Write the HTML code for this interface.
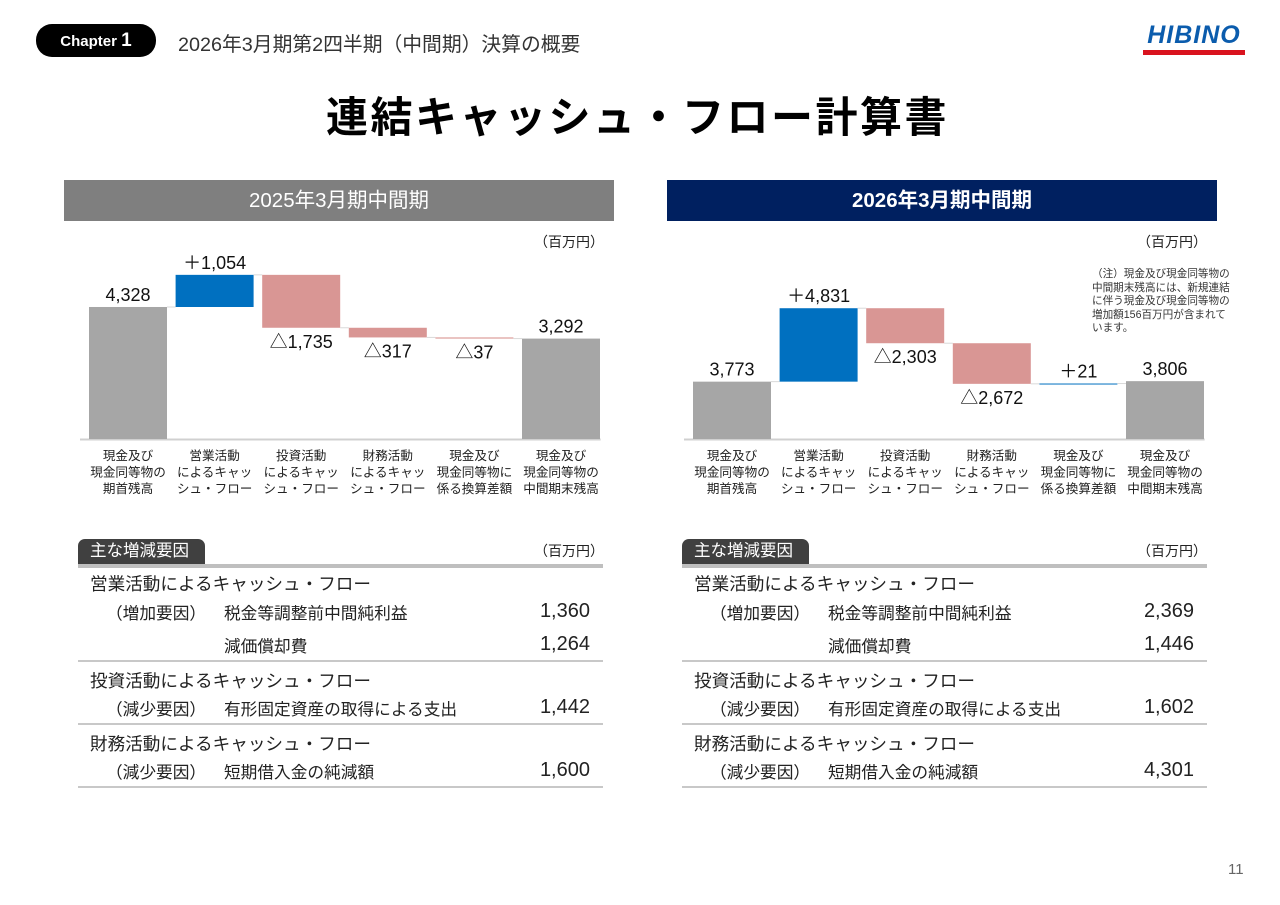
<!DOCTYPE html>
<html><head><meta charset="utf-8">
<style>
body{margin:0;background:#fff;}
#page{position:relative;width:1280px;height:905px;overflow:hidden;font-family:"Liberation Sans","Noto Sans CJK JP",sans-serif;color:#222;}
.a{position:absolute;white-space:nowrap;}
.hdr{position:absolute;top:180px;height:41px;width:550px;color:#fff;font-size:20.5px;line-height:41px;text-align:center;}
.tab{position:absolute;top:539px;height:25px;width:127px;background:#404040;color:#fff;font-size:16.5px;line-height:25px;border-radius:7px 7px 0 0;padding-left:12px;box-sizing:border-box;}
.thick{position:absolute;top:564px;height:4px;width:525px;background:#bfbfbf;}
.sep{position:absolute;height:2px;width:525px;background:#c8c8c8;}
.t{font-size:16.7px;}
.s{font-size:17.6px;}
.num{font-size:20px;text-align:right;width:120px;}
svg text{font-family:"Liberation Sans","Noto Sans CJK JP",sans-serif;}
</style></head><body>
<div id="page">
<div class="a" style="left:36px;top:24px;width:120px;height:33px;background:#000;border-radius:16px;color:#fff;font-weight:bold;font-size:15px;line-height:33px;text-align:center;">Chapter <span style="font-size:19px">1</span></div>
<div class="a" style="left:178px;top:28px;font-size:19.8px;color:#333;">2026年3月期第2四半期（中間期）決算の概要</div>
<div class="a" style="left:1143px;top:22px;width:102px;">
<div style="color:#0b5cad;font-weight:bold;font-style:italic;font-size:25px;letter-spacing:1px;line-height:26px;text-align:center;">HIBINO</div>
<div style="height:5px;background:#d9131e;margin-top:2px;"></div></div>
<div class="a" style="left:0;width:1275px;text-align:center;top:84px;font-size:42px;font-weight:bold;color:#000;letter-spacing:2.5px;">連結キャッシュ・フロー計算書</div>

<div class="hdr" style="left:64px;background:#7f7f7f;">2025年3月期中間期</div>
<div class="hdr" style="left:667px;background:#002060;font-weight:bold;">2026年3月期中間期</div>
<div class="a" style="left:534px;top:232px;font-size:14px;">（百万円）</div>
<div class="a" style="left:1137px;top:232px;font-size:14px;">（百万円）</div>
<div class="a" style="left:1092px;top:268px;font-size:10.6px;line-height:13.5px;color:#333;">（注）現金及び現金同等物の<br>中間期末残高には、新規連結<br>に伴う現金及び現金同等物の<br>増加額156百万円が含まれて<br>います。</div>

<svg id="chartL" class="a" style="left:0;top:230px" width="640" height="270"></svg>
<svg id="chartR" class="a" style="top:230px;left:640px" width="640" height="270"></svg>

<div class="tab" style="left:78px;">主な増減要因</div>
<div class="a" style="left:534px;top:541px;font-size:14px;">（百万円）</div>
<div class="thick" style="left:78px;"></div>
<div class="a s" style="left:90px;top:571px;">営業活動によるキャッシュ・フロー</div>
<div class="a t" style="left:106px;top:600px;">（増加要因）</div>
<div class="a t" style="left:224px;top:600px;">税金等調整前中間純利益</div>
<div class="a num" style="left:470px;top:600px;">1,360</div>
<div class="a t" style="left:224px;top:633px;">減価償却費</div>
<div class="a num" style="left:470px;top:633px;">1,264</div>
<div class="sep" style="left:78px;top:660px;"></div>
<div class="a s" style="left:90px;top:668px;">投資活動によるキャッシュ・フロー</div>
<div class="a t" style="left:106px;top:696px;">（減少要因）</div>
<div class="a t" style="left:224px;top:696px;">有形固定資産の取得による支出</div>
<div class="a num" style="left:470px;top:696px;">1,442</div>
<div class="sep" style="left:78px;top:723px;"></div>
<div class="a s" style="left:90px;top:731px;">財務活動によるキャッシュ・フロー</div>
<div class="a t" style="left:106px;top:759px;">（減少要因）</div>
<div class="a t" style="left:224px;top:759px;">短期借入金の純減額</div>
<div class="a num" style="left:470px;top:759px;">1,600</div>
<div class="sep" style="left:78px;top:786px;"></div>

<div class="tab" style="left:682px;">主な増減要因</div>
<div class="a" style="left:1137px;top:541px;font-size:14px;">（百万円）</div>
<div class="thick" style="left:682px;"></div>
<div class="a s" style="left:694px;top:571px;">営業活動によるキャッシュ・フロー</div>
<div class="a t" style="left:710px;top:600px;">（増加要因）</div>
<div class="a t" style="left:828px;top:600px;">税金等調整前中間純利益</div>
<div class="a num" style="left:1074px;top:600px;">2,369</div>
<div class="a t" style="left:828px;top:633px;">減価償却費</div>
<div class="a num" style="left:1074px;top:633px;">1,446</div>
<div class="sep" style="left:682px;top:660px;"></div>
<div class="a s" style="left:694px;top:668px;">投資活動によるキャッシュ・フロー</div>
<div class="a t" style="left:710px;top:696px;">（減少要因）</div>
<div class="a t" style="left:828px;top:696px;">有形固定資産の取得による支出</div>
<div class="a num" style="left:1074px;top:696px;">1,602</div>
<div class="sep" style="left:682px;top:723px;"></div>
<div class="a s" style="left:694px;top:731px;">財務活動によるキャッシュ・フロー</div>
<div class="a t" style="left:710px;top:759px;">（減少要因）</div>
<div class="a t" style="left:828px;top:759px;">短期借入金の純減額</div>
<div class="a num" style="left:1074px;top:759px;">4,301</div>
<div class="sep" style="left:682px;top:786px;"></div>

<div class="a" style="left:1228px;top:861px;font-size:15px;color:#666;">11</div>
</div>
<script>
const categories = [["現金及び","現金同等物の","期首残高"],["営業活動","によるキャッ","シュ・フロー"],["投資活動","によるキャッ","シュ・フロー"],["財務活動","によるキャッ","シュ・フロー"],["現金及び","現金同等物に","係る換算差額"],["現金及び","現金同等物の","中間期末残高"]];
const values2025 = [4328, 1054, -1735, -317, -37, 3292];
const values2026 = [3773, 4831, -2303, -2672, 21, 3806];
const labels2025 = ["4,328","＋1,054","△1,735","△317","△37","3,292"];
const labels2026 = ["3,773","＋4,831","△2,303","△2,672","＋21","3,806"];
const NS="http://www.w3.org/2000/svg";
function mk(tag,attrs,parent){const e=document.createElementNS(NS,tag);for(const k in attrs)e.setAttribute(k,attrs[k]);parent.appendChild(e);return e;}
function draw(id, vals, labels, x0, scale){
  const svg=document.getElementById(id);
  const base=209, step=86.6, bw=78;
  const y=v=>base-v*scale;
  const ax=mk('line',{x1:x0-9,x2:x0+6*step-8,y1:base+0.5,y2:base+0.5,stroke:'#d0d0d0','stroke-width':2},svg);
  
  
  let run=0;
  vals.forEach((v,i)=>{
    const x=x0+i*step;
    let top,bot,fill;
    if(i===0||i===vals.length-1){top=y(v);bot=base;fill='#a6a6a6';run=v;}
    else{const a=run,b=run+v;top=y(Math.max(a,b));bot=y(Math.min(a,b));fill=v>=0?'#0070c0':'#d99694';run=b;}
    const r=mk('rect',{x:x,y:top,width:bw,height:Math.max(1,bot-top),fill:fill},svg);
    
    
    if(i<vals.length-1){
      const endY=(i===0)?y(v):y(run);
      const c=mk('line',{x1:x+bw,x2:x+step,y1:endY,y2:endY,stroke:'#d9d9d9','stroke-width':1},svg);
      
      
    }
    const ly=(v<0&&i>0&&i<vals.length-1)?bot+20:top-6;
    const t=mk('text',{x:x+bw/2,y:ly,'text-anchor':'middle','font-size':18,fill:'#111'},svg);
    t.textContent=labels[i];
    
    
    categories[i].forEach((s,j)=>{
      const ct=mk('text',{x:x+bw/2,y:base+21+j*16.5,'text-anchor':'middle','font-size':12.6,fill:'#222'},svg);
      ct.textContent=s;
      
      
    });
  });
}
draw('chartL', values2025, labels2025, 89, 0.0305);
draw('chartR', values2026, labels2026, 53, 0.0152);
</script>
</body></html>
